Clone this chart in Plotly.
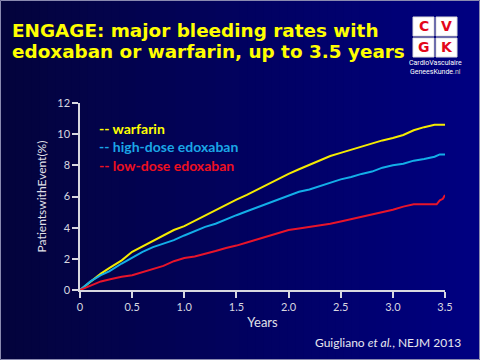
import plotly.graph_objects as go

# ---- data ----
years_w = [0, 0.1, 0.2, 0.28, 0.4, 0.5, 0.6, 0.7, 0.8, 0.9, 1.0, 1.1, 1.2, 1.3, 1.4, 1.5, 1.6, 1.7, 1.8, 1.9,
           2.0, 2.1, 2.2, 2.3, 2.4, 2.5, 2.6, 2.7, 2.8, 2.9, 3.0, 3.1, 3.2, 3.3, 3.4, 3.5]
warfarin = [0, 0.55, 1.05, 1.4, 1.9, 2.45, 2.8, 3.1, 3.45, 3.85, 4.1, 4.45, 4.8, 5.15, 5.5, 5.8, 6.1, 6.45, 6.8, 7.1,
            7.45, 7.75, 8.05, 8.35, 8.6, 8.8, 9.0, 9.2, 9.4, 9.6, 9.75, 9.95, 10.25, 10.45, 10.6, 10.6]

years_h = [0, 0.1, 0.2, 0.28, 0.4, 0.5, 0.6, 0.7, 0.8, 0.9, 1.0, 1.1, 1.2, 1.3, 1.4, 1.5, 1.6, 1.7, 1.8, 1.9,
           2.0, 2.1, 2.2, 2.3, 2.4, 2.5, 2.6, 2.7, 2.8, 2.9, 3.0, 3.1, 3.2, 3.3, 3.4, 3.45, 3.5]
high_dose = [0, 0.55, 0.95, 1.2, 1.7, 2.1, 2.45, 2.75, 2.95, 3.2, 3.5, 3.8, 4.05, 4.25, 4.55, 4.8, 5.05, 5.3, 5.55, 5.8,
             6.05, 6.3, 6.45, 6.65, 6.9, 7.1, 7.25, 7.45, 7.6, 7.85, 8.0, 8.1, 8.3, 8.4, 8.55, 8.7, 8.7]

years_l = [0, 0.1, 0.2, 0.3, 0.4, 0.5, 0.6, 0.7, 0.8, 0.9, 1.0, 1.1, 1.2, 1.3, 1.4, 1.5, 1.6, 1.7, 1.8, 1.9,
           2.0, 2.1, 2.2, 2.3, 2.4, 2.5, 2.6, 2.7, 2.8, 2.9, 3.0, 3.1, 3.2, 3.3, 3.42, 3.45, 3.48, 3.5]
low_dose = [0, 0.3, 0.55, 0.7, 0.85, 0.95, 1.15, 1.35, 1.55, 1.85, 2.05, 2.15, 2.35, 2.5, 2.7, 2.85, 3.05, 3.25, 3.5, 3.7,
            3.85, 3.95, 4.05, 4.15, 4.25, 4.4, 4.55, 4.7, 4.85, 5.0, 5.15, 5.35, 5.5, 5.5, 5.5, 5.75, 5.85, 6.1]

x_ticks = [0, 0.5, 1.0, 1.5, 2.0, 2.5, 3.0, 3.5]
x_tick_labels = ["0", "0.5", "1.0", "1.5", "2.0", "2.5", "3.0", "3.5"]
y_ticks = [0, 2, 4, 6, 8, 10, 12]

legend_labels = ["-- warfarin", "-- high-dose edoxaban", "-- low-dose edoxaban"]
colors = ["#f5eb00", "#13aee8", "#e8142a"]
legend_colors = ["#ffff00", "#1aa6e6", "#ee1020"]

fig = go.Figure()
for xs, ys, c in [(years_w, warfarin, colors[0]), (years_h, high_dose, colors[1]), (years_l, low_dose, colors[2])]:
    fig.add_trace(go.Scatter(x=xs, y=ys, mode="lines", line=dict(color=c, width=2), showlegend=False,
                             hoverinfo="skip"))

W, H = 480, 360
ML, MR, MT, MB = 80, 35, 103, 70
PW, PH = W - ML - MR, H - MT - MB


def px(x):
    return (x - ML) / PW


def py(y):
    return (H - MB - y) / PH


# background gradient strips
shapes = []
n = 60
for i in range(n):
    t = i / (n - 1)
    r = int(4 * (1 - t))
    g = int(4 * (1 - t))
    b = int(0x3c + (0x82 - 0x3c) * t)
    shapes.append(dict(type="rect", xref="paper", yref="paper",
                       x0=px(W * i / n - 0.5), x1=px(W * (i + 1) / n + 0.5),
                       y0=py(H), y1=py(0), line=dict(width=0), fillcolor=f"rgb({r},{g},{b})", layer="below"))
# frame
shapes.append(dict(type="rect", xref="paper", yref="paper", x0=px(0.5), x1=px(W - 0.5), y0=py(H - 0.5), y1=py(0.5),
                   line=dict(color="#8a8ab0", width=1), layer="above"))

boxes = [(413, 17, "C"), (436, 17, "V"), (413, 38, "G"), (436, 38, "K")]
annotations = []
for bx, by, letter in boxes:
    shapes.append(dict(type="rect", xref="paper", yref="paper", x0=px(bx), x1=px(bx + 21),
                       y0=py(by + 19), y1=py(by), fillcolor="white", line=dict(color="#dddddd", width=1),
                       layer="above"))
    annotations.append(dict(x=px(bx + 10.5), y=py(by + 9.5), xref="paper", yref="paper", text=f"<b>{letter}</b>",
                            showarrow=False, font=dict(family="DejaVu Sans", size=14, color="#e3061b"),
                            xanchor="center", yanchor="middle"))
annotations.append(dict(x=px(435), y=py(63), xref="paper", yref="paper", text="CardioVasculaire",
                        showarrow=False, font=dict(family="Liberation Sans Narrow, Roboto", size=7, color="white"),
                        xanchor="center", yanchor="middle"))
annotations.append(dict(x=px(435), y=py(72), xref="paper", yref="paper",
                        text="GeneesKunde<span style='color:#cccccc'>.nl</span>",
                        showarrow=False, font=dict(family="Liberation Sans Narrow, Roboto", size=7, color="white"),
                        xanchor="center", yanchor="middle"))

# title
annotations.append(dict(x=px(10), y=py(30), xref="paper", yref="paper", text="<b>ENGAGE: major bleeding rates with</b>",
                        showarrow=False, font=dict(family="DejaVu Sans", size=18.4, color="#ffff00"),
                        xanchor="left", yanchor="middle"))
annotations.append(dict(x=px(10), y=py(51), xref="paper", yref="paper",
                        text="<b>edoxaban or warfarin, up to 3.5 years</b>",
                        showarrow=False, font=dict(family="DejaVu Sans", size=18.4, color="#ffff00"),
                        xanchor="left", yanchor="middle"))

# legend text
for i, (lab, col) in enumerate(zip(legend_labels, legend_colors)):
    annotations.append(dict(x=px(97), y=py(128 + 18.5 * i), xref="paper", yref="paper",
                            text=f"<b>{lab}</b>", showarrow=False,
                            font=dict(family="Lato, Open Sans", size=14, color=col),
                            xanchor="left", yanchor="middle"))

# citation
annotations.append(dict(x=px(463), y=py(342), xref="paper", yref="paper",
                        text="Guigliano <i>et al.</i>, NEJM 2013", showarrow=False,
                        font=dict(family="Lato, Open Sans", size=12, color="#e8e8f0"),
                        xanchor="right", yanchor="middle"))

axis_color = "#d8d8e0"
fig.update_layout(
    width=W, height=H,
    margin=dict(l=ML, r=MR, t=MT, b=MB),
    paper_bgcolor="#000050",
    plot_bgcolor="rgba(0,0,0,0)",
    shapes=shapes,
    annotations=annotations,
    xaxis=dict(range=[0, 3.5], tickvals=x_ticks, ticktext=x_tick_labels, showgrid=False, zeroline=False,
               showline=True, linecolor=axis_color, linewidth=1.5, ticks="outside", ticklen=6,
               tickcolor=axis_color, tickwidth=1.5,
               tickfont=dict(family="Lato, Open Sans", size=11, color="#d8d8e0"),
               title=dict(text="Years", font=dict(family="Lato, Open Sans", size=13, color="#e0e0e8"), standoff=6)),
    yaxis=dict(range=[0, 12], tickvals=y_ticks, showgrid=False, zeroline=False,
               showline=True, linecolor=axis_color, linewidth=1.5, ticks="outside", ticklen=6,
               tickcolor=axis_color, tickwidth=1.5,
               tickfont=dict(family="Lato, Open Sans", size=11, color="#d8d8e0"),
               title=dict(text="PatientswithEvent(%)", font=dict(family="Lato, Open Sans", size=12, color="#e0e0e8"),
                          standoff=8)),
)

fig.write_html("out.html", config={"displayModeBar": False},
               post_script="document.body.style.margin='0';")
